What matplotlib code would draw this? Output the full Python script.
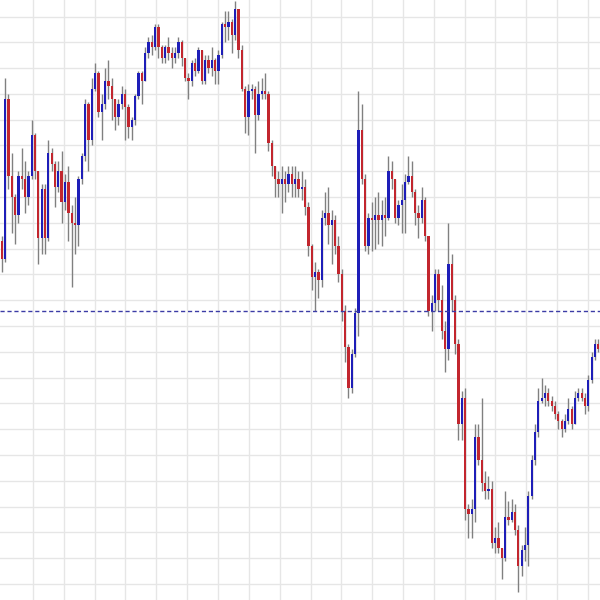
import numpy as np
import matplotlib.pyplot as plt
from matplotlib.ticker import MultipleLocator

# prices in pips above 1.1000, one entry per candle (open = previous close)
base = 1.1000
first_open = 133
close_pips = [126, 188, 158, 150, 143, 158, 157, 150, 158, 174,
              160, 134, 153, 134, 167, 163, 154, 160, 148, 156,
              144, 140, 139, 157, 166, 186, 172, 192,
              198, 183, 186, 195, 193, 188, 181, 186, 190, 185,
              177, 180, 189, 198, 195, 206, 210, 208, 216,
              208, 204, 208, 206, 204, 206, 210, 204, 196, 195,
              202, 199, 207, 195, 203, 200, 203, 199, 205, 217,
              216, 218, 213, 223, 207, 192, 181, 191, 192, 182,
              190, 191, 190, 171, 162, 157, 155, 157, 155, 159,
              155, 157, 153,
              154, 146, 131, 119, 121, 118, 142, 144, 139, 141,
              131, 120, 106, 92, 76, 89, 105, 176, 157, 131,
              142, 141, 143, 141, 143, 142, 160, 157, 142, 147,
              149, 156, 158, 152, 144, 142, 149, 135, 106, 109,
              120, 110, 98, 91, 124, 110, 93, 62, 72, 29,
              27, 29, 57, 48, 39, 36, 37, 16, 18, 14,
              10, 26, 25, 28, 21, 7, 13, 15, 34, 48,
              59, 71, 72, 74, 71, 69, 66, 63, 60, 63,
              68, 62, 72, 74, 72, 69, 79, 88, 93, 91]
high_pips = [135, 196, 190, 167, 151, 160, 169, 164, 160, 180,
             175, 160, 155, 155, 172, 169, 164, 164, 168, 159,
             162, 147, 150, 158, 167, 188, 187, 196,
             202, 199, 190, 200, 203, 196, 188, 188, 193, 192,
             186, 181, 190, 199, 199, 208, 212, 213, 217,
             217, 209, 209, 212, 208, 208, 212, 211, 204, 198,
             203, 204, 208, 207, 205, 205, 208, 204, 207, 218,
             222, 222, 219, 226, 223, 209, 193, 194, 194, 193,
             195, 196, 198, 191, 172, 162, 160, 162, 160, 162,
             162, 162, 160,
             160, 157, 148, 132, 125, 122, 145, 152, 154, 145,
             143, 135, 122, 108, 93, 91, 107, 191, 186, 159,
             144, 148, 150, 152, 149, 150, 166, 164, 157, 149,
             155, 159, 166, 164, 153, 147, 154, 150, 135, 112,
             122, 122, 116, 102, 140, 128, 112, 95, 75, 76,
             31, 33, 62, 62, 72, 44, 42, 40, 22, 24,
             14, 36, 32, 33, 31, 23, 15, 22, 36, 50,
             62, 76, 80, 77, 76, 73, 71, 67, 64, 66,
             72, 69, 75, 76, 76, 74, 81, 90, 95, 95]
low_pips = [121, 125, 153, 136, 132, 140, 153, 144, 147, 157,
            157, 124, 128, 128, 133, 160, 146, 152, 140, 145,
            133, 115, 128, 131, 155, 164, 160, 170,
            191, 181, 172, 184, 188, 180, 176, 178, 184, 172,
            173, 172, 178, 188, 186, 195, 204, 205, 207,
            204, 202, 202, 203, 200, 202, 204, 201, 195, 188,
            193, 197, 198, 194, 194, 198, 197, 194, 194, 204,
            210, 211, 206, 211, 204, 191, 175, 174, 188, 167,
            180, 188, 188, 168, 158, 150, 150, 144, 148, 152,
            150, 150, 150,
            149, 143, 127, 114, 106, 111, 115, 139, 132, 124,
            128, 117, 102, 86, 72, 74, 88, 96, 155, 129,
            128, 129, 130, 132, 131, 135, 141, 153, 140, 139,
            136, 136, 155, 150, 139, 134, 140, 133, 104, 98,
            106, 106, 95, 82, 87, 106, 89, 56, 56, 25,
            18, 18, 24, 46, 36, 33, 33, 14, 12, 12,
            2, 9, 23, 24, 19, -3, 3, 9, 7, 33,
            46, 57, 70, 69, 69, 67, 64, 60, 57, 59,
            62, 60, 62, 71, 71, 66, 67, 78, 87, 90]
ref_level = 1.1106

close = base + np.array(close_pips) / 1e4
opens = np.r_[base + first_open / 1e4, close[:-1]]
high = np.maximum(base + np.array(high_pips) / 1e4, np.maximum(opens, close))
low = np.minimum(base + np.array(low_pips) / 1e4, np.minimum(opens, close))
x = np.arange(len(close))

up_col = '#1e1eb8'
down_col = '#c2262e'
colors = np.where(close >= opens, up_col, down_col)

fig = plt.figure(figsize=(6, 6), dpi=100)
ax = fig.add_axes([0, 0, 1, 1])

ax.vlines(x, low, high, color='#808080', lw=1, zorder=2)
body = np.abs(close - opens)
body = np.maximum(body, 0.00004)
ax.bar(x, body, bottom=np.minimum(opens, close), width=0.7, color=colors, zorder=3)

ax.axhline(ref_level, color='#3c3ca6', lw=1, ls=(0, (3, 2)), zorder=4)

ax.set_xlim(-0.5, len(close) - 0.5)
ax.set_ylim(base - 0.00062, base + 0.02264)
ax.yaxis.set_major_locator(MultipleLocator(0.001))
ax.set_xticks(np.arange(9.4, len(close), 9.25))
ax.grid(True, color='#e6e6e6', lw=1)
ax.set_axisbelow(True)
ax.tick_params(length=0, labelleft=False, labelbottom=False)
for s in ax.spines.values():
    s.set_visible(False)

plt.savefig('out.png', dpi=100)
